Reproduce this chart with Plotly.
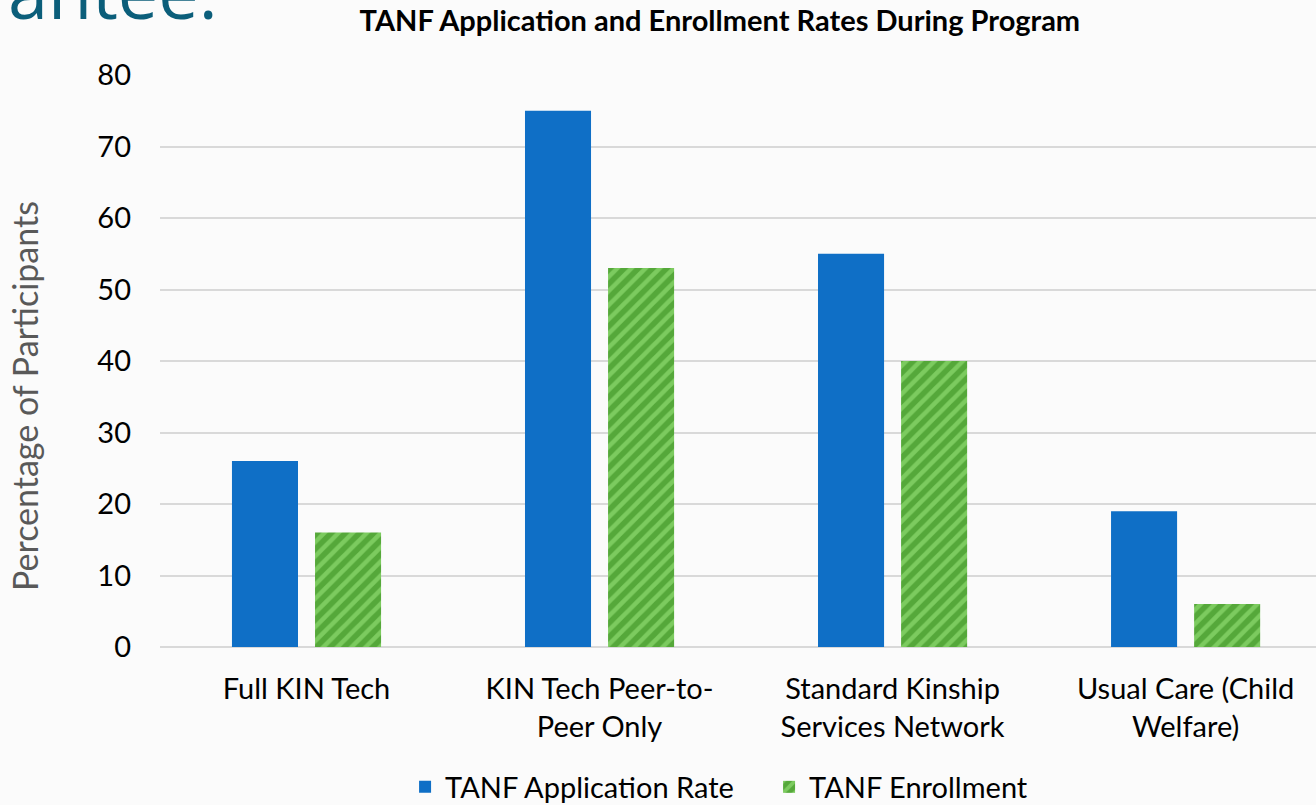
import plotly.graph_objects as go

categories = ["Full KIN Tech", "KIN Tech Peer-to-<br>Peer Only",
              "Standard Kinship<br>Services Network", "Usual Care (Child<br>Welfare)"]
application_rate = [26, 75, 55, 19]
enrollment_rate = [16, 53, 40, 6]
y_ticks = [0, 10, 20, 30, 40, 50, 60, 70, 80]

FONT = "Lato"

fig = go.Figure()
fig.add_trace(go.Bar(
    name="TANF Application Rate", x=categories, y=application_rate,
    marker=dict(color="#0f6fc6", line=dict(width=0)),
))
fig.add_trace(go.Bar(
    name="TANF Enrollment", x=categories, y=enrollment_rate,
    marker=dict(color="#55a83a", line=dict(width=0),
                pattern=dict(shape="/", fgcolor="#7ccb5f", bgcolor="#55a83a",
                             size=10, solidity=0.45, fillmode="replace")),
))

fig.update_layout(
    width=1316, height=805,
    margin=dict(l=160, r=0, t=75, b=158),
    paper_bgcolor="#fbfbfb", plot_bgcolor="#fbfbfb",
    barmode="group", bargap=0.433, bargroupgap=0.205,
    font=dict(family=FONT, size=29, color="#000000"),
    title=dict(text="<b>TANF Application and Enrollment Rates During Program</b>",
               x=0.547, xref="container", xanchor="center",
               y=1 - 21 / 805, yref="container", yanchor="middle",
               font=dict(family=FONT, size=29, color="#000000")),
    legend=dict(orientation="h", xref="container", yref="container",
                x=0.5844, xanchor="center", y=1 - 787 / 805, yanchor="middle",
                font=dict(family=FONT, size=29), itemwidth=30,
                entrywidth=319, entrywidthmode="pixels",
                bgcolor="rgba(0,0,0,0)"),
    showlegend=True,
)
fig.update_xaxes(range=[-0.5, 3.445], showgrid=False, showline=False,
                 ticks="", ticklabelstandoff=22, tickfont=dict(size=29))
fig.update_yaxes(range=[0, 80], tickvals=y_ticks, showgrid=True,
                 gridcolor="#d9d9d9", gridwidth=1.5, zeroline=True,
                 zerolinecolor="#d9d9d9", zerolinewidth=1.5, showline=False,
                 ticks="", ticklabelstandoff=28, tickfont=dict(size=29))

fig.add_annotation(text="Percentage of Participants", xref="paper", yref="paper",
                   x=(24 - 160) / 1156, y=(647 - 396) / 572, textangle=-90,
                   showarrow=False, xanchor="center", yanchor="middle",
                   font=dict(family=FONT, size=34, color="#595959"))
fig.add_annotation(text="antee.", xref="paper", yref="paper",
                   x=(6 - 160) / 1156, y=(647 - 42) / 572, showarrow=False,
                   xanchor="left", yanchor="bottom",
                   font=dict(family="Open Sans", size=72, color="#0b5e7a"))

fig.write_html("out.html", config={"displayModeBar": False},
               post_script="document.body.style.margin='0px';")
